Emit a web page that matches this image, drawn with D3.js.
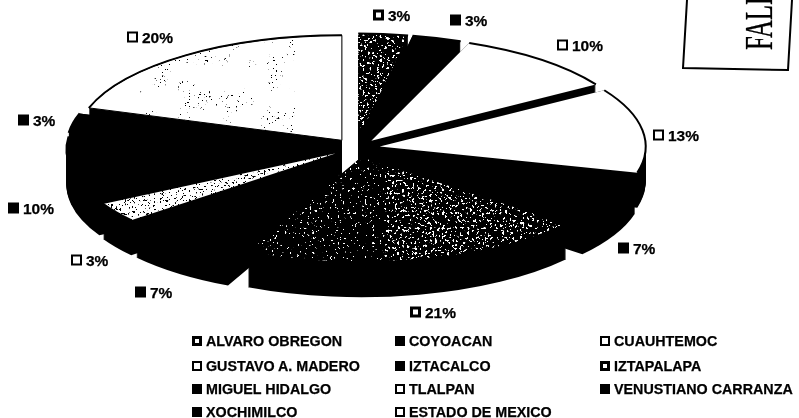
<!DOCTYPE html>
<html><head><meta charset="utf-8">
<script src="https://cdn.jsdelivr.net/npm/d3@7"></script>
<style>html,body{margin:0;background:#fff}svg{display:block}text{font-family:"Liberation Sans",Arial,sans-serif;font-weight:bold;fill:#000;stroke:#000;stroke-width:.25}</style>
</head><body><svg id="c" width="799" height="418"></svg>
<script>
const categories=["ALVARO OBREGON","COYOACAN","CUAUHTEMOC","GUSTAVO A. MADERO","IZTACALCO","IZTAPALAPA","MIGUEL HIDALGO","TLALPAN","VENUSTIANO CARRANZA","XOCHIMILCO","ESTADO DE MEXICO"];
const values=[3,3,10,13,7,21,7,3,10,3,20];
const fills=["url(#dark)","#000","#fff","#fff","#000","url(#dark)","#000","url(#light)","#000","#000","url(#light)"];
const markerFills=["#fff","#000","#fff","#fff","#000","#fff","#000","#fff","#000","#000","#fff"];
const markerStroke=[3,2,2,2,2,3,2,2,2,2,2];
const faceStroke=[0,0,0,0,0,0,0,0,0,0,1];
const labelPos=[[373,15],[450,20],[557,45],[653,135],[618,248],[410,312],[135,292],[71,260],[8,208],[18,120],[127,37]];
const legendX=[192,395,600];
const legendY=[341,366,389,412];
const rx=266,ry=105,depth=35,explode=24,cx=356,cy=148;
const svg=d3.select("#c");
const defs=svg.append("defs");
const speck=(id,freq,thr,color,seed)=>{
  const f=defs.append("filter").attr("id",id).attr("filterUnits","userSpaceOnUse").attr("x",0).attr("y",0).attr("width",799).attr("height",418).attr("color-interpolation-filters","sRGB");
  f.append("feTurbulence").attr("type","fractalNoise").attr("baseFrequency",freq).attr("numOctaves",2).attr("seed",seed);
  f.append("feColorMatrix").attr("type","matrix").attr("values",`0 0 0 0 ${color} 0 0 0 0 ${color} 0 0 0 0 ${color} 0 0 0 30 ${-30*thr}`);
  return f;
};
speck("fDense","0.4",0.61,1,4);
speck("fSparse","0.4",0.68,1,4);
speck("fDots","0.45",0.63,0,6);
const fc=speck("fCluster","0.45",0.7,0,3);
fc.select("feColorMatrix").attr("result","hi");
fc.append("feTurbulence").attr("type","fractalNoise").attr("baseFrequency","0.045").attr("numOctaves",1).attr("seed",12).attr("result","low");
fc.append("feColorMatrix").attr("in","low").attr("type","matrix").attr("values","0 0 0 0 0 0 0 0 0 0 0 0 0 0 0 0 0 0 20 -10").attr("result","mask");
fc.append("feComposite").attr("in","hi").attr("in2","mask").attr("operator","in");
// speckle regions are clip rectangles over a page-sized noise layer
const pat=(id,bg,layers)=>{
  const p=defs.append("pattern").attr("id",id).attr("patternUnits","userSpaceOnUse").attr("width",799).attr("height",418);
  p.append("rect").attr("width",799).attr("height",418).attr("fill",bg);
  layers.forEach(([f,x,y,w,h],j)=>{
    const cid=id+"Clip"+j;
    defs.append("clipPath").attr("id",cid).append("rect").attr("x",x).attr("y",y).attr("width",w).attr("height",h);
    p.append("g").attr("clip-path",`url(#${cid})`).append("rect").attr("width",799).attr("height",418).attr("filter",`url(#${f})`);
  });
};
pat("dark","#000",[["fDense",0,0,799,125],["fSparse",0,125,385,293],["fDense",385,125,414,293]]);
pat("light","#fff",[["fCluster",140,40,155,95],["fDots",0,150,400,268]]);
const scan=defs.append("filter").attr("id","scan");
scan.append("feGaussianBlur").attr("stdDeviation",0.45);

const root=svg.append("g").attr("filter","url(#scan)");
const pie=d3.pie().sort(null).value(d=>d)(values);
const arc=d3.arc().innerRadius(0).outerRadius(rx);
const rim=d3.arc().innerRadius(rx).outerRadius(rx);
const k=ry/rx;
const off=d=>{const m=(d.startAngle+d.endAngle)/2;return [explode*Math.sin(m),-explode*Math.cos(m)*k];};
const order=d3.range(pie.length).sort((a,b)=>off(pie[a])[1]-off(pie[b])[1]);
const pieG=root.append("g");
order.forEach(i=>{
  const d=pie[i],[ox,oy]=off(d);
  pieG.selectAll(null).data(d3.range(1,depth+1)).join("path")
    .attr("d",arc(d)).attr("fill","#000")
    .attr("transform",s=>`translate(${cx+ox},${cy+oy+s}) scale(1,${k})`);
});
order.forEach(i=>{
  const d=pie[i],[ox,oy]=off(d);
  const t=`translate(${cx+ox},${cy+oy}) scale(1,${k})`;
  // the face is filled in page space so its speckle does not stretch with the ellipse
  pieG.append("path").attr("d",arc(d)).attr("fill","#000").attr("transform",t);
  const cid="face"+i;
  defs.append("clipPath").attr("id",cid).append("path").attr("d",arc(d)).attr("transform",t);
  pieG.append("rect").attr("width",799).attr("height",418).attr("fill",fills[i]).attr("clip-path",`url(#${cid})`);
  if(faceStroke[i]) pieG.append("path").attr("d",arc(d)).attr("fill","none").attr("stroke","#000").attr("stroke-width",faceStroke[i])
    .attr("vector-effect","non-scaling-stroke").attr("transform",t);
  pieG.append("path").attr("d",rim(d)).attr("fill","none").attr("stroke","#000").attr("stroke-width",2)
    .attr("vector-effect","non-scaling-stroke").attr("transform",t);
});
const marker=(g,x,y,s,f,w)=>g.append("rect").attr("x",x+w/2).attr("y",y-s/2+w/2).attr("width",s-w).attr("height",s-w).attr("fill",f).attr("stroke","#000").attr("stroke-width",w);
values.forEach((v,i)=>{
  const [x,y]=labelPos[i];
  marker(root,x,y,11,markerFills[i],markerStroke[i]);
  root.append("text").attr("x",x+15).attr("y",y+5.5).attr("font-size",15.5).text(v+"%");
});
categories.forEach((c,i)=>{
  const x=legendX[i%3],y=legendY[Math.floor(i/3)];
  marker(root,x,y,10,markerFills[i],markerStroke[i]);
  root.append("text").attr("x",x+14).attr("y",y+4.5).attr("font-size",14.3).text(c);
});
// stamp in the corner of the scanned page
root.append("path").attr("d","M687 0L683 68L788 70L792 0").attr("fill","none").attr("stroke","#000").attr("stroke-width",2);
root.append("text").attr("transform","translate(772,50) rotate(-90) scale(.62,1)").style("font-family","'Liberation Serif',serif").style("font-weight","normal").attr("font-size",40).text("FALL");
</script></body></html>
